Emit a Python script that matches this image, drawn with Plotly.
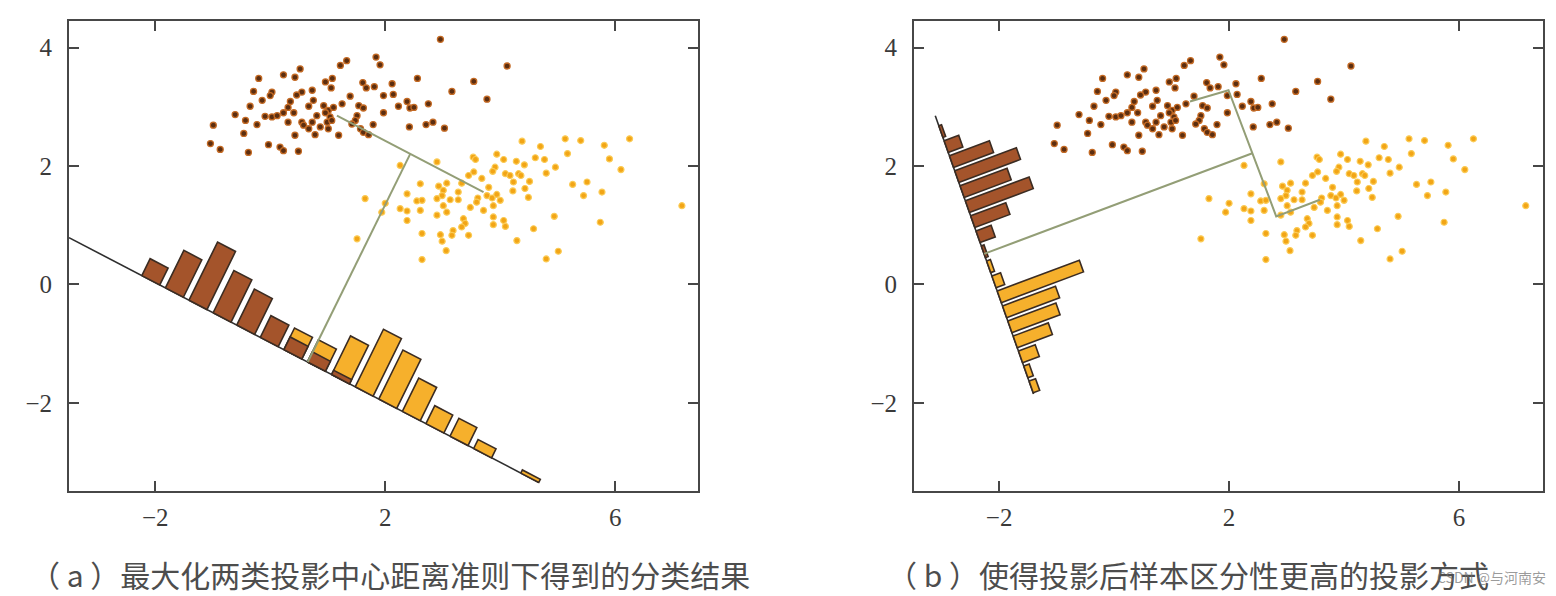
import plotly.graph_objects as go

# ---------------- data: sample points (same samples in both panels) ----------------
brown_x = [1.33, 1.22, 0.52, -0.20, 0.23, 0.43, 1.08, 0.96, 1.06, -0.29,
           0.03, 0.00, -0.14, 0.55, 0.46, 0.73, 0.75, 1.39, 1.25, 1.54,
           -0.35, 0.35, 0.31, 0.67, 0.93, 1.01, 1.10, -0.61, -0.09, 0.03,
           0.12, 0.23, 0.41, 0.81, 0.96, 1.04, -0.43, 0.31, 0.55, 0.58,
           0.73, 0.99, 1.07, -0.99, -0.23, 0.67, 0.87, 1.01, -0.46, 0.43,
           0.78, 1.19, -1.04, -0.87, -0.03, 0.17, 0.23, -0.38, 0.49, 2.96,
           1.84, 1.91, 4.12, 2.56, 3.54, 1.61, 1.67, 1.81, 2.12, 3.16,
           1.97, 2.14, 3.77, 1.62, 2.38, 2.23, 2.43, 2.50, 2.75, 1.97,
           1.51, 1.48, 1.42, 1.79, 1.57, 1.62, 1.71, 2.42, 2.71, 2.83,
           3.03]
brown_y = [3.78, 3.70, 3.64, 3.48, 3.54, 3.50, 3.48, 3.42, 3.32, 3.26,
           3.25, 3.19, 3.11, 3.25, 3.20, 3.28, 3.11, 3.18, 3.05, 3.02,
           3.01, 3.09, 2.99, 3.01, 3.02, 2.94, 2.99, 2.87, 2.84, 2.83,
           2.85, 2.90, 2.90, 2.85, 2.90, 2.83, 2.77, 2.74, 2.74, 2.69,
           2.74, 2.74, 2.77, 2.69, 2.70, 2.63, 2.66, 2.63, 2.55, 2.52,
           2.53, 2.52, 2.38, 2.28, 2.36, 2.32, 2.26, 2.23, 2.25, 4.14,
           3.84, 3.71, 3.69, 3.48, 3.43, 3.41, 3.32, 3.34, 3.39, 3.26,
           3.19, 3.21, 3.13, 2.98, 3.09, 3.01, 2.98, 2.99, 3.05, 2.90,
           2.85, 2.77, 2.71, 2.70, 2.63, 2.57, 2.53, 2.66, 2.70, 2.74,
           2.64]

orange_x = [3.53, 3.57, 3.94, 4.06, 4.28, 2.90, 2.26, 3.91, 3.87, 3.54,
            3.45, 4.09, 4.17, 3.68, 4.23, 2.61, 3.07, 2.93, 3.33, 3.80,
            4.22, 2.38, 3.01, 2.99, 3.27, 3.77, 3.86, 3.94, 1.65, 2.55,
            2.64, 2.90, 3.13, 3.27, 3.61, 3.59, 4.00, 2.00, 3.01, 3.48,
            3.88, 2.26, 2.38, 2.61, 3.07, 3.71, 1.94, 2.90, 2.38, 3.36,
            3.39, 3.88, 4.06, 3.88, 4.09, 3.18, 3.33, 2.64, 2.96, 3.16,
            3.45, 1.51, 2.99, 3.06, 2.64, 4.29, 4.38, 5.13, 5.40, 6.25,
            4.70, 5.81, 5.17, 4.61, 4.77, 5.90, 4.42, 4.96, 6.10, 4.80,
            4.32, 4.36, 4.51, 5.26, 5.51, 4.43, 4.49, 5.77, 5.45, 7.16,
            4.94, 5.74, 4.58, 5.01, 4.80]
orange_y = [2.15, 2.11, 2.20, 2.11, 2.08, 2.07, 2.01, 1.98, 1.91, 1.90,
            1.84, 1.87, 1.84, 1.79, 1.73, 1.70, 1.71, 1.66, 1.71, 1.64,
            1.58, 1.53, 1.59, 1.50, 1.56, 1.50, 1.46, 1.52, 1.45, 1.41,
            1.42, 1.45, 1.43, 1.43, 1.46, 1.39, 1.42, 1.37, 1.33, 1.30,
            1.33, 1.28, 1.24, 1.25, 1.22, 1.25, 1.22, 1.17, 1.08, 1.11,
            1.03, 1.14, 1.08, 1.01, 0.98, 0.91, 0.97, 0.86, 0.84, 0.83,
            0.83, 0.77, 0.73, 0.57, 0.42, 0.74, 2.42, 2.46, 2.43, 2.46,
            2.33, 2.35, 2.21, 2.14, 2.11, 2.12, 2.02, 1.98, 1.94, 1.88,
            1.87, 1.84, 1.74, 1.69, 1.73, 1.62, 1.47, 1.56, 1.50, 1.33,
            1.15, 1.05, 0.94, 0.56, 0.43]

# ---------------- panel (a): projection onto the line joining the class means ----------------
proj_a_origin = [-3.5, 0.79]
proj_a_dir = [0.892, -0.4515]
proj_a_length = 9.15
hist_a_bins = [1.42, 1.88, 2.34, 2.81, 3.27, 3.73, 4.19, 4.65, 5.12,
               5.58, 6.04, 6.50, 6.96, 7.43, 7.89, 8.35, 8.81]
hist_a_brown = [0.32, 0.71, 1.10, 0.80, 0.68, 0.41, 0.24, 0.19, 0.08,
                0, 0, 0, 0, 0, 0, 0, 0]
hist_a_orange = [0, 0, 0, 0, 0, 0, 0.41, 0.42, 0.73,
                 1.09, 0.93, 0.63, 0.34, 0.34, 0.17, 0, 0.06]
means_a_x = [1.16, 3.71]
means_a_y = [2.85, 1.56]

# ---------------- panel (b): Fisher projection ----------------
proj_b_origin = [-3.11, 2.85]
proj_b_dir = [0.342, -0.940]
proj_b_length = 5.0
hist_b_bins = [0.18, 0.45, 0.72, 0.99, 1.26, 1.53, 1.80, 2.07, 2.34,
               2.61, 2.88, 3.15, 3.42, 3.69, 3.96, 4.23, 4.50, 4.77]
hist_b_brown = [0.05, 0.27, 0.74, 1.14, 0.87, 1.18, 0.65, 0.28, 0.05,
                0, 0, 0, 0, 0, 0, 0, 0, 0]
hist_b_orange = [0, 0, 0, 0, 0, 0, 0, 0, 0,
                 0.07, 0.16, 1.52, 0.98, 0.89, 0.65, 0.31, 0.10, 0.12]
guide_b_x = [1.32, 1.99, 2.82, 3.58]
guide_b_y = [3.09, 3.28, 1.15, 1.43]

captions = ["（ a ）最大化两类投影中心距离准则下得到的分类结果",
            "（ b ）使得投影后样本区分性更高的投影方式"]
watermark = "CSDN @与河南安"

# ---------------- styles ----------------
BROWN_BAR = "#a4542b"
ORANGE_BAR = "#f6b02c"
BAR_EDGE = "#3b2c22"
GUIDE = "#939e76"
AXIS = "#474747"
# the page body keeps its default 8px margin, so the figure is 8px smaller
W, H = 1548, 588


def bar_polys(origin, d, starts, width, heights):
    n = (-d[1], d[0])
    xs, ys = [], []
    for s, h in zip(starts, heights):
        if h <= 0:
            continue
        p0 = (origin[0] + s * d[0], origin[1] + s * d[1])
        p1 = (origin[0] + (s + width) * d[0], origin[1] + (s + width) * d[1])
        p2 = (p1[0] + h * n[0], p1[1] + h * n[1])
        p3 = (p0[0] + h * n[0], p0[1] + h * n[1])
        xs += [p0[0], p1[0], p2[0], p3[0], p0[0], None]
        ys += [p0[1], p1[1], p2[1], p3[1], p0[1], None]
    return xs, ys


def foot(origin, d, p):
    s = (p[0] - origin[0]) * d[0] + (p[1] - origin[1]) * d[1]
    return (origin[0] + s * d[0], origin[1] + s * d[1])


fig = go.Figure()


def add_panel(xa, ya, origin, d, length, bins, width, hb, ho, guides):
    fig.add_trace(go.Scatter(
        x=[origin[0], origin[0] + length * d[0]],
        y=[origin[1], origin[1] + length * d[1]],
        mode="lines", line=dict(color="#2e2e2e", width=1.6),
        xaxis=xa, yaxis=ya, hoverinfo="skip"))
    for heights, col in ((ho, ORANGE_BAR), (hb, BROWN_BAR)):
        bx, by = bar_polys(origin, d, bins, width, heights)
        fig.add_trace(go.Scatter(
            x=bx, y=by, mode="lines", fill="toself", fillcolor=col,
            line=dict(color=BAR_EDGE, width=1.6),
            xaxis=xa, yaxis=ya, hoverinfo="skip"))
    fig.add_trace(go.Scatter(
        x=brown_x, y=brown_y, mode="markers",
        marker=dict(size=6, color="#5c2e10",
                    line=dict(color="#c46a24", width=1.3)),
        xaxis=xa, yaxis=ya))
    fig.add_trace(go.Scatter(
        x=orange_x, y=orange_y, mode="markers",
        marker=dict(size=6, color="#f2a516",
                    line=dict(color="#fbcb55", width=1.2)),
        xaxis=xa, yaxis=ya))
    for gx, gy in guides:
        fig.add_trace(go.Scatter(
            x=gx, y=gy, mode="lines", line=dict(color=GUIDE, width=2),
            xaxis=xa, yaxis=ya, hoverinfo="skip"))


mid_a = ((means_a_x[0] + means_a_x[1]) / 2, (means_a_y[0] + means_a_y[1]) / 2)
f_a = foot(proj_a_origin, proj_a_dir, mid_a)
guides_a = [(means_a_x, means_a_y), ([mid_a[0], f_a[0]], [mid_a[1], f_a[1]])]
add_panel("x", "y", proj_a_origin, proj_a_dir, proj_a_length,
          hist_a_bins, 0.35, hist_a_brown, hist_a_orange, guides_a)

mid_b = ((guide_b_x[1] + guide_b_x[2]) / 2, (guide_b_y[1] + guide_b_y[2]) / 2)
f_b = foot(proj_b_origin, proj_b_dir, mid_b)
guides_b = [(guide_b_x, guide_b_y), ([f_b[0], mid_b[0]], [f_b[1], mid_b[1]])]
add_panel("x2", "y2", proj_b_origin, proj_b_dir, proj_b_length,
          hist_b_bins, 0.21, hist_b_brown, hist_b_orange, guides_b)

axis_common = dict(
    showgrid=False, zeroline=False, showline=True, linecolor=AXIS, linewidth=2,
    mirror="ticks", ticks="inside", ticklen=10, tickwidth=1.5, tickcolor=AXIS,
    tickfont=dict(family="Liberation Serif", size=25, color="#3a3a3a"),
    fixedrange=True)

ydom = [1 - 483 / H, 1 - 13 / H]
fig.update_layout(
    width=W, height=H, margin=dict(l=0, r=0, t=0, b=0),
    paper_bgcolor="white", plot_bgcolor="white", showlegend=False,
    xaxis=dict(domain=[61 / W, 690 / W], range=[-3.5, 7.44],
               tickvals=[-2, 2, 6], anchor="y", ticklabelstandoff=3,
               **axis_common),
    yaxis=dict(domain=ydom, range=[-3.49, 4.45],
               tickvals=[-2, 0, 2, 4], anchor="x", ticklabelstandoff=10,
               **axis_common),
    xaxis2=dict(domain=[906 / W, 1535 / W], range=[-3.48, 7.46],
                tickvals=[-2, 2, 6], anchor="y2", ticklabelstandoff=3,
                **axis_common),
    yaxis2=dict(domain=ydom, range=[-3.49, 4.45],
                tickvals=[-2, 0, 2, 4], anchor="x2", ticklabelstandoff=10,
                **axis_common),
)

cap_font = dict(family="Noto Sans CJK SC", size=30, color="#4d4d4d")
fig.add_annotation(text=captions[0], xref="paper", yref="paper",
                   x=382 / W, y=1 - 566 / H, showarrow=False,
                   xanchor="center", yanchor="middle", font=cap_font)
fig.add_annotation(text=captions[1], xref="paper", yref="paper",
                   x=1180 / W, y=1 - 566 / H, showarrow=False,
                   xanchor="center", yanchor="middle", font=cap_font)
fig.add_annotation(text=watermark, xref="paper", yref="paper",
                   x=1540 / W, y=1 - 569 / H, showarrow=False,
                   xanchor="right", yanchor="middle",
                   font=dict(family="Noto Sans CJK SC", size=14,
                             color="rgba(110,110,110,0.7)"))

fig.write_html("out.html")
